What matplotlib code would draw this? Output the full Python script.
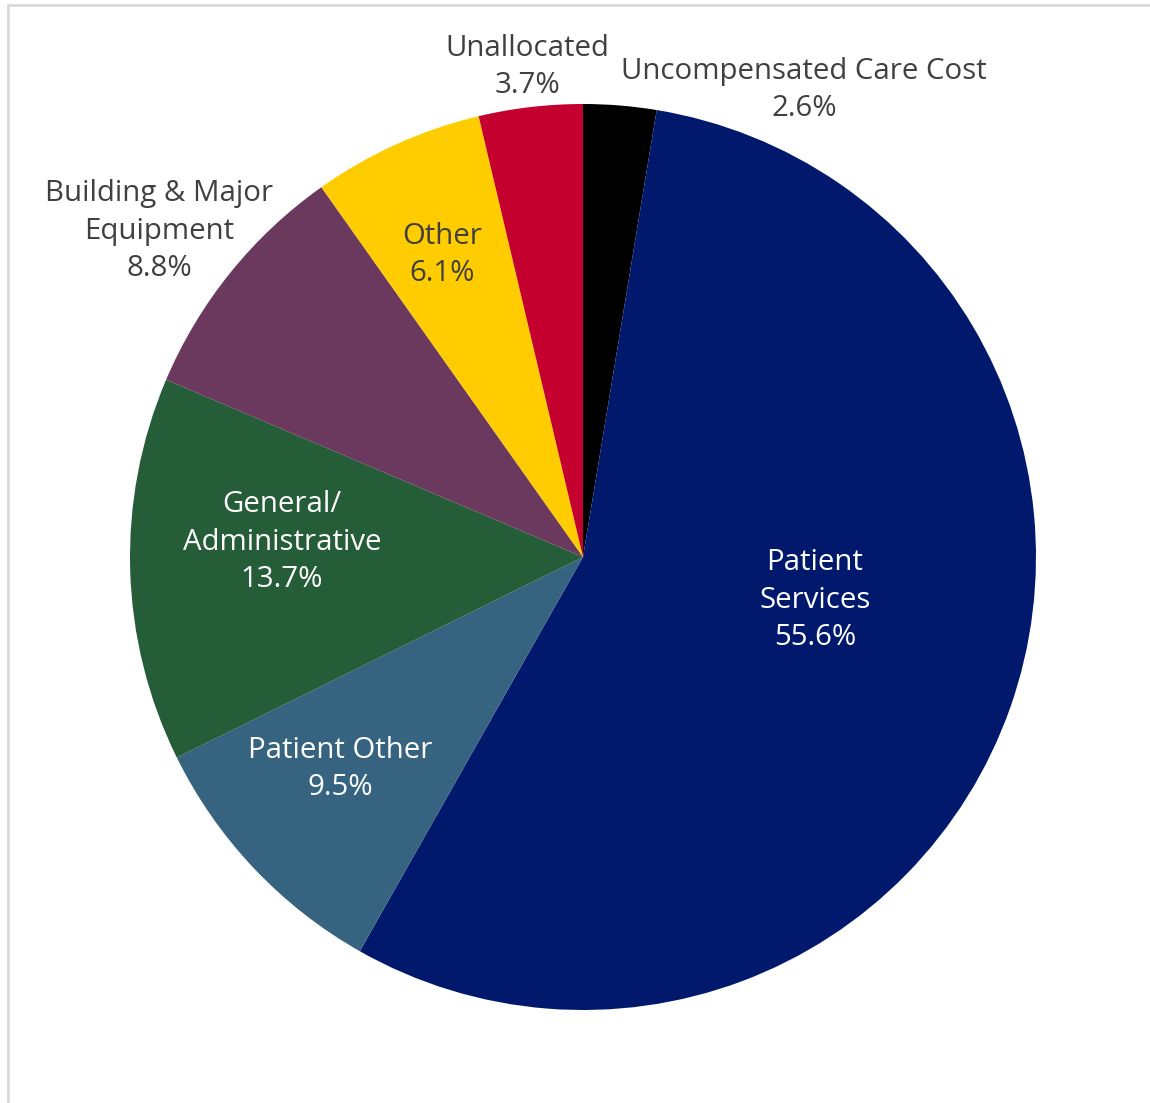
import matplotlib
matplotlib.use("Agg")
import matplotlib.pyplot as plt
import matplotlib.patches as mpatches

# ── data (clockwise from 12 o'clock) ──
CATEGORIES = ['Uncompensated Care Cost', 'Patient\nServices', 'Patient Other',
              'General/\nAdministrative', 'Building & Major\nEquipment',
              'Other', 'Unallocated']
SHARES = [2.6, 55.6, 9.5, 13.7, 8.8, 6.1, 3.7]
COLORS = ['#000000', '#00196C', '#36637F', '#255D38', '#6B395D', '#FFCC00', '#C4002F']
TEXT_COLORS = ['#404040', 'white', 'white', 'white', '#404040', '#404040', '#404040']

# label centres in pixel coordinates (y measured from top)
LABEL_POS = [(804, 90), (815, 600), (340, 769), (282, 542),
             (159, 231), (442, 255), (527, 67)]

W, H = 1150, 1103
CX, CY, R = 583, 557, 453

fig = plt.figure(figsize=(W / 100, H / 100), dpi=100)
ax = fig.add_axes([0, 0, 1, 1])
ax.set_xlim(0, W)
ax.set_ylim(0, H)
ax.set_aspect('equal')
ax.axis('off')

# chart area frame (light gray, cropped at right/bottom)
ax.add_patch(mpatches.Rectangle((8, -20), W + 20, H - 5 + 20, fill=False,
                                edgecolor='#D9D9D9', linewidth=2))

ax.pie(SHARES, colors=COLORS, startangle=90, counterclock=False,
       center=(CX, H - CY), radius=R, wedgeprops={'linewidth': 0})
ax.set_xlim(0, W)
ax.set_ylim(0, H)

for cat, val, (lx, ly), tc in zip(CATEGORIES, SHARES, LABEL_POS, TEXT_COLORS):
    ax.text(lx, H - ly, f'{cat}\n{val:.1f}%', ha='center', va='center',
            fontsize=21.2, color=tc, linespacing=1.38, family='Open Sans')

fig.savefig('out.png', dpi=100)
